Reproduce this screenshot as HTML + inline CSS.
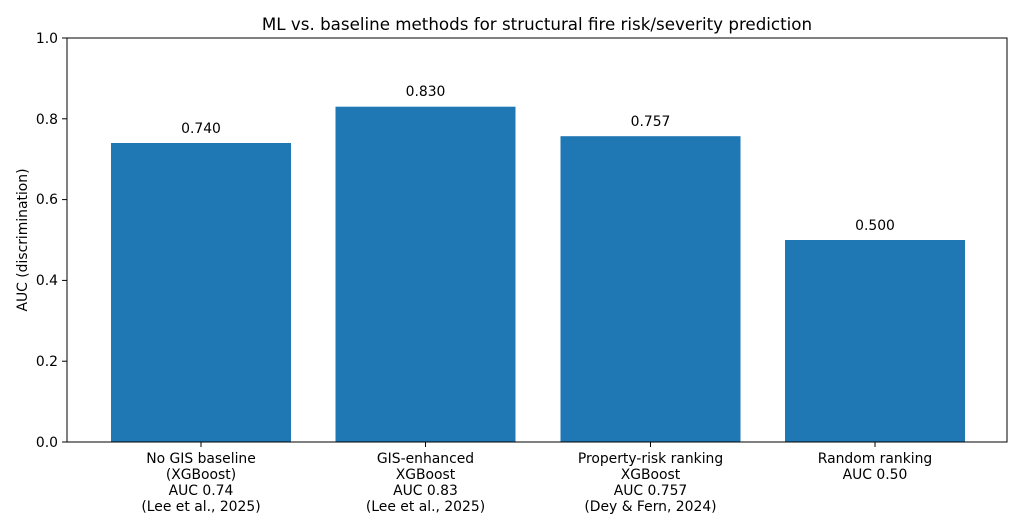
<!DOCTYPE html>
<html><head><meta charset="utf-8"><style>
body{margin:0;background:#fff}
svg{display:block}
text{font-family:"DejaVu Sans","Liberation Sans",sans-serif;fill:#000}
</style></head><body>
<svg width="1023" height="532" viewBox="0 0 1023 532" xmlns="http://www.w3.org/2000/svg">
<rect width="1023" height="532" fill="#fff"/>
<text x="537" y="30" font-size="16.7" text-anchor="middle">ML vs. baseline methods for structural fire risk/severity prediction</text>
<g fill="#1f77b4">
<rect x="111" y="143.0" width="180" height="299.0"/>
<rect x="335.5" y="106.7" width="180" height="335.3"/>
<rect x="560.5" y="136.2" width="180" height="305.8"/>
<rect x="785" y="240" width="180" height="202"/>
</g>
<rect x="67" y="38" width="940" height="404" fill="none" stroke="#000" stroke-width="1"/>
<g font-size="13.9" text-anchor="middle">
<text x="201" y="133">0.740</text>
<text x="425.5" y="96">0.830</text>
<text x="650.5" y="126">0.757</text>
<text x="875" y="230">0.500</text>
</g>
<g stroke="#000" stroke-width="1">
<line x1="62" y1="442" x2="67" y2="442"/><line x1="62" y1="361.2" x2="67" y2="361.2"/>
<line x1="62" y1="280.4" x2="67" y2="280.4"/><line x1="62" y1="199.6" x2="67" y2="199.6"/>
<line x1="62" y1="118.8" x2="67" y2="118.8"/><line x1="62" y1="38" x2="67" y2="38"/>
<line x1="201" y1="442" x2="201" y2="447"/><line x1="425.5" y1="442" x2="425.5" y2="447"/>
<line x1="650.5" y1="442" x2="650.5" y2="447"/><line x1="875" y1="442" x2="875" y2="447"/>
</g>
<g font-size="13.9" text-anchor="end">
<text x="58" y="447">0.0</text><text x="58" y="366">0.2</text><text x="58" y="285">0.4</text>
<text x="58" y="204">0.6</text><text x="58" y="124">0.8</text><text x="58" y="43">1.0</text>
</g>
<text transform="translate(27,240) rotate(-90)" font-size="13.9" text-anchor="middle">AUC (discrimination)</text>
<g font-size="13.9" text-anchor="middle">
<text x="201" y="463">No GIS baseline</text><text x="201" y="479">(XGBoost)</text><text x="201" y="495">AUC 0.74</text><text x="201" y="511">(Lee et al., 2025)</text>
<text x="425.5" y="463">GIS-enhanced</text><text x="425.5" y="479">XGBoost</text><text x="425.5" y="495">AUC 0.83</text><text x="425.5" y="511">(Lee et al., 2025)</text>
<text x="650.5" y="463">Property-risk ranking</text><text x="650.5" y="479">XGBoost</text><text x="650.5" y="495">AUC 0.757</text><text x="650.5" y="511">(Dey &amp; Fern, 2024)</text>
<text x="875" y="463">Random ranking</text><text x="875" y="479">AUC 0.50</text>
</g>
</svg>
</body></html>
